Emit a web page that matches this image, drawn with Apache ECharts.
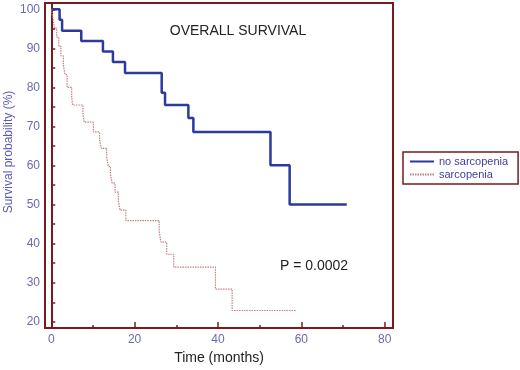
<!DOCTYPE html>
<html>
<head>
<meta charset="utf-8">
<script src="https://cdn.jsdelivr.net/npm/echarts@6/dist/echarts.min.js"></script>
<style>
  html, body { margin: 0; padding: 0; background: #fff; }
  #main { width: 520px; height: 370px; }
</style>
</head>
<body>
<div id="main"></div>
<script>
// Kaplan-Meier steps: [time in months, survival %]
const noSarcTime = [0, 2.0, 2.6, 7.2, 12.4, 14.8, 17.7, 26.5, 27.3, 32.9, 34.1, 52.6, 57.2, 70.9];
const noSarcSurv = [100, 97.3, 94.5, 91.9, 89.2, 86.5, 83.7, 78.6, 75.5, 72.2, 68.6, 60.1, 50, 50];

const sarcTime = [0, 0.4, 0.8, 1.3, 1.8, 2.3, 2.9, 3.3, 3.8, 4.9, 5.1, 7.6, 7.9, 10.1, 11.6, 12.0,
  13.3, 13.7, 14.2, 14.6, 15.3, 16.1, 16.5, 16.9, 17.9, 25.9, 26.3, 27.7, 29.4, 39.4, 43.4, 58.8];
const sarcSurv = [100, 97.6, 95.2, 92.9, 90.5, 88.1, 85.7, 83.3, 80.0, 77.7, 75.5, 73.3, 71.1, 68.6, 66.5, 64.4,
  62.1, 59.8, 57.8, 55.5, 53.2, 51.0, 48.6, 48.6, 45.9, 43.2, 40.4, 37.3, 34.0, 28.4, 22.9, 22.9];

const xMajor = [0, 20, 40, 60, 80];
const xMinor = [10, 30, 50, 70];
const yTicks = [20, 30, 40, 50, 60, 70, 80, 90, 100];
const yMinor = [25, 35, 45, 55, 65, 75, 85, 95];

const seriesNames = ['no sarcopenia', 'sarcopenia'];

const frame = '#7a1a1e';
const tickText = '#6a6aae';

function pairs(t, s) {
  return t.map((v, i) => [v, s[i]]);
}

var chartDom = document.getElementById('main');
var myChart = echarts.init(chartDom);
var option;

option = {
  animation: false,
  grid: {
    left: 45, top: 3, right: 127, bottom: 34,
    show: true, borderColor: frame, borderWidth: 2
  },
  legend: {
    orient: 'vertical',
    left: 403, top: 152,
    padding: [4, 10, 4, 6],
    itemGap: 2,
    itemWidth: 24, itemHeight: 10,
    borderColor: frame, borderWidth: 1.5, borderRadius: 0,
    itemStyle: { opacity: 0 },
    textStyle: { color: '#4040a0', fontSize: 11, fontFamily: 'Liberation Sans' },
    data: seriesNames
  },
  xAxis: [
    {
      type: 'value', min: -1.5, max: 82,
      name: 'Time (months)', nameLocation: 'middle', nameGap: 20,
      nameTextStyle: { color: '#222', fontSize: 14, fontFamily: 'Liberation Sans' },
      axisLine: { show: true, lineStyle: { color: frame, width: 2 } },
      axisTick: { show: true, inside: true, length: 6, customValues: xMajor, lineStyle: { color: frame, width: 1.5 } },
      axisLabel: { customValues: xMajor, color: tickText, fontSize: 12, margin: 6, fontFamily: 'Liberation Sans' },
      splitLine: { show: false }
    },
    {
      type: 'value', min: -1.5, max: 82, position: 'bottom', gridIndex: 0,
      axisLine: { show: false },
      axisTick: { show: true, inside: true, length: 3, customValues: xMinor, lineStyle: { color: frame, width: 1.5 } },
      axisLabel: { show: false },
      splitLine: { show: false }
    }
  ],
  yAxis: [
    {
      type: 'value', min: 18.4, max: 101.6,
      axisLine: { show: true, lineStyle: { color: frame, width: 2 } },
      axisTick: { show: true, inside: true, length: 4, customValues: yTicks, lineStyle: { color: frame, width: 1.5 } },
      axisLabel: { customValues: yTicks, color: tickText, fontSize: 12, margin: 5, fontFamily: 'Liberation Sans' },
      splitLine: { show: false }
    },
    {
      type: 'value', min: 18.4, max: 101.6, position: 'left',
      axisLine: { show: false },
      axisTick: { show: true, inside: true, length: 4, customValues: yMinor, lineStyle: { color: frame, width: 1.5 } },
      axisLabel: { show: false },
      splitLine: { show: false }
    }
  ],
  graphic: [
    {
      type: 'text', x: 9, y: 152, rotation: Math.PI / 2,
      style: {
        text: 'Survival probability (%)', fill: '#5a5ab4', fontSize: 12,
        fontFamily: 'Liberation Sans', textAlign: 'center', textVerticalAlign: 'middle'
      }
    },
    {
      type: 'text', x: 238, y: 31,
      style: {
        text: 'OVERALL SURVIVAL', fill: '#222', fontSize: 14,
        fontFamily: 'Liberation Sans', textAlign: 'center', textVerticalAlign: 'middle'
      }
    },
    {
      type: 'text', x: 314, y: 266,
      style: {
        text: 'P = 0.0002', fill: '#222', fontSize: 14,
        fontFamily: 'Liberation Sans', textAlign: 'center', textVerticalAlign: 'middle'
      }
    }
  ],
  series: [
    {
      name: seriesNames[0], type: 'line', step: 'end', symbol: 'none',
      lineStyle: { color: '#2b3a9c', width: 2.5 },
      itemStyle: { color: '#2b3a9c' },
      data: pairs(noSarcTime, noSarcSurv)
    },
    {
      name: seriesNames[1], type: 'line', step: 'end', symbol: 'none',
      lineStyle: { color: '#c48080', width: 1.2, type: [1.5, 1] },
      itemStyle: { color: '#c48080' },
      data: pairs(sarcTime, sarcSurv)
    }
  ]
};
option && myChart.setOption(option);
</script>
</body>
</html>
